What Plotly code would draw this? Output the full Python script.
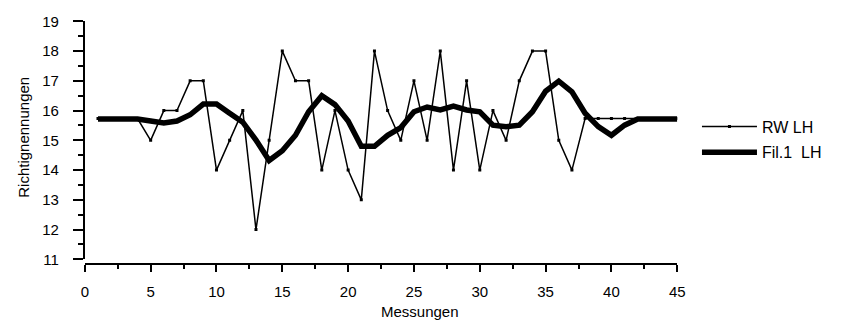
import plotly.graph_objects as go

# ---- data ----
messungen = list(range(1, 46))
rw_lh = [15.73, 15.73, 15.73, 15.73, 15, 16, 16, 17, 17, 14,
         15, 16, 12, 15, 18, 17, 17, 14, 16, 14,
         13, 18, 16, 15, 17, 15, 18, 14, 17, 14,
         16, 15, 17, 18, 18, 15, 14, 15.73, 15.73, 15.73,
         15.73, 15.73, 15.73, 15.73, 15.73]
fil1_lh = [15.72, 15.72, 15.72, 15.72, 15.65, 15.58, 15.65, 15.86, 16.22, 16.22,
           15.91, 15.61, 15.01, 14.32, 14.65, 15.17, 15.96, 16.5, 16.2, 15.65,
           14.8, 14.8, 15.17, 15.43, 15.96, 16.12, 16.02, 16.15, 16.02, 15.96,
           15.51, 15.46, 15.51, 15.96, 16.65, 16.99, 16.63, 15.91, 15.46, 15.17,
           15.51, 15.72, 15.72, 15.72, 15.72]
series_names = ["RW LH", "Fil.1  LH"]
x_title = "Messungen"
y_title = "Richtignennungen"

W, H = 841, 329
FONT = "Liberation Sans, Arial, sans-serif"

def px_x(p):
    return p / W

def px_y(p):
    return 1 - p / H

fig = go.Figure()
fig.add_trace(go.Scatter(
    x=messungen, y=rw_lh, name=series_names[0], mode="lines+markers",
    line=dict(color="black", width=1.5),
    marker=dict(symbol="square", size=3, color="black"),
    legendgroup="a",
))
fig.add_trace(go.Scatter(
    x=messungen, y=fil1_lh, name=series_names[1], mode="lines",
    line=dict(color="black", width=5.5),
    legendgroup="b",
))

fig.update_layout(
    width=W, height=H,
    margin=dict(l=0, r=0, t=0, b=0),
    paper_bgcolor="white", plot_bgcolor="white",
    font=dict(family=FONT, color="black", size=15),
    showlegend=True,
    legend=dict(
        x=px_x(703), y=px_y(106), xanchor="left", yanchor="top",
        font=dict(size=16, family=FONT), tracegroupgap=2,
        itemwidth=55, bgcolor="rgba(0,0,0,0)",
    ),
    xaxis=dict(
        domain=[px_x(82), px_x(683)], range=[0, 45],
        anchor="free", position=px_y(269),
        showline=True, linecolor="black", linewidth=2,
        ticks="outside", ticklen=7, tickwidth=2, tickcolor="black",
        dtick=5, tick0=0, showgrid=False, zeroline=False,
        ticklabelstandoff=7,
        tickfont=dict(size=15),
        minor=dict(dtick=2.5, ticks="outside", ticklen=4, tickwidth=2, tickcolor="black", showgrid=False),
    ),
    yaxis=dict(
        domain=[px_y(264), px_y(13)], range=[11, 19],
        anchor="x",
        showline=True, linecolor="black", linewidth=2,
        ticks="outside", ticklen=10, tickwidth=2, tickcolor="black",
        dtick=1, tick0=11, showgrid=False, zeroline=False,
        ticklabelstandoff=11,
        tickfont=dict(size=15),
        minor=dict(dtick=0.5, ticks="outside", ticklen=5, tickwidth=2, tickcolor="black", showgrid=False),
    ),
    annotations=[
        dict(text=x_title, xref="paper", yref="paper", x=px_x(422), y=px_y(319),
             xanchor="center", yanchor="middle", showarrow=False, font=dict(size=15)),
        dict(text=y_title, xref="paper", yref="paper", x=px_x(19), y=px_y(135),
             xanchor="center", yanchor="middle", showarrow=False, textangle=-90,
             font=dict(size=15)),
    ],
)

fig.write_html("out.html")
